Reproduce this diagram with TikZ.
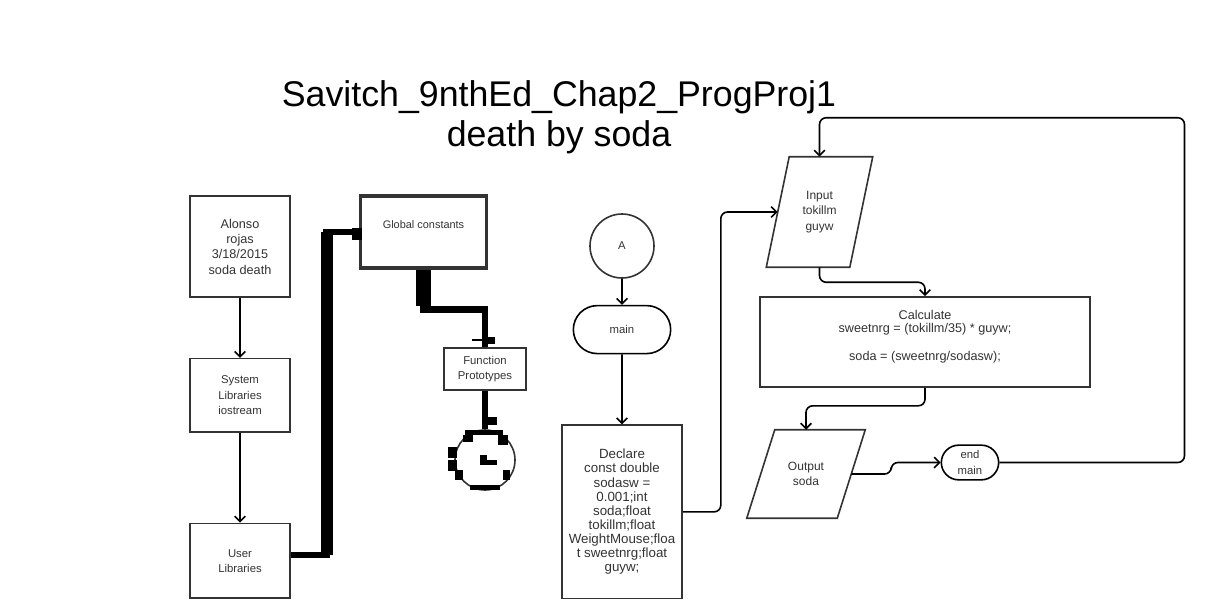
\documentclass[tikz,border=0pt]{standalone}
\usepackage{fontspec}
\setmainfont{Liberation Sans}
\usetikzlibrary{shapes.geometric, shapes.misc, arrows.meta, positioning, calc}
\tikzstyle{process} = [rectangle, draw=black!80, line width=1.2pt, text=black!80, align=center, inner sep=2pt, font=\fontsize{8.5}{11.5}\selectfont]
\tikzstyle{io} = [rectangle, text=black!80, align=center, inner sep=2pt, font=\fontsize{9}{11.5}\selectfont]
\tikzstyle{ioline} = [draw=black!80, line width=1.2pt]
\tikzstyle{term} = [rounded rectangle, draw=black, line width=1.2pt, text=black!80, align=center, inner sep=1pt, font=\fontsize{8.5}{11.5}\selectfont]
\tikzstyle{connector} = [circle, draw=black!80, line width=1.2pt, text=black!80, inner sep=0pt, font=\fontsize{8.5}{11.5}\selectfont]
\tikzstyle{arrow} = [line width=1.2pt, -{Straight Barb[length=4pt,width=8pt]}, rounded corners=5pt]
\tikzstyle{fat} = [line width=5pt, black]

\begin{document}
\begin{tikzpicture}[x=0.75pt, y=-0.75pt]
\useasboundingbox (0,0) rectangle (1210,615);

\node (title) at (559,117) [align=center, font=\fontsize{26.8}{30}\selectfont] {Savitch\_9nthEd\_Chap2\_ProgProj1\\death by soda};

% left column
\node (alonso) at (240,246.5) [process, minimum width=75pt, minimum height=75.75pt, font=\fontsize{9.5}{11.5}\selectfont] {Alonso\\rojas\\3/18/2015\\soda death};
\node (syslib) [process, below=45pt of alonso, minimum width=75pt, minimum height=55pt] {System\\Libraries\\iostream};
\node (userlib) [process, below=67.5pt of syslib, minimum width=75pt, minimum height=56pt] {User\\Libraries};

\node (globals) at (423.5,232) [process, line width=2.4pt, minimum width=94pt, minimum height=54pt, inner sep=0pt, text height=24pt, text depth=30pt, font=\fontsize{8.2}{11}\selectfont] {Global constants};
\node (protos) at (485,369) [process, minimum width=61.5pt, minimum height=31.5pt] {Function\\Prototypes};
\node (stop) at (485,460) [connector, minimum size=45pt] {};

% main column
\node (A) at (622,246) [connector, minimum size=48pt] {A};
\node (main) [term, below=19.5pt of A, minimum width=75pt, minimum height=36pt] {main};
\node (declare) [process, below=52.5pt of main, minimum width=90pt, minimum height=130pt, font=\fontsize{10}{10.6}\selectfont] {Declare\\const double\\sodasw =\\0.001;int\\soda;float\\tokillm;float\\WeightMouse;floa\\t sweetnrg;float\\guyw;};

% right part
\node (input) at (819.5,212) [io, minimum width=62.25pt, minimum height=82.5pt] {Input\\tokillm\\guyw};
\draw [ioline] ($(input.north west)+(8.6pt,0)$) -- ($(input.north east)+(8.6pt,0)$) -- ($(input.south east)+(-8.6pt,0)$) -- ($(input.south west)+(-8.6pt,0)$) -- cycle;
\node (calc) at (925,342) [process, minimum width=247.5pt, minimum height=67.5pt, font=\fontsize{9.5}{10.2}\selectfont] {Calculate\\sweetnrg = (tokillm/35) * guyw;\\[10.2pt]soda = (sweetnrg/sodasw);\\\mbox{}};
\node (output) at (806,474) [io, minimum width=67.5pt, minimum height=66pt] {Output\\soda};
\draw [ioline] ($(output.north west)+(10.5pt,0)$) -- ($(output.north east)+(10.5pt,0)$) -- ($(output.south east)+(-10.5pt,0)$) -- ($(output.south west)+(-10.5pt,0)$) -- cycle;
\node (endmain) at (970,462.5) [term, minimum width=45pt, minimum height=26pt] {end\\main};

% Arrows
\draw [arrow] (alonso) -- (syslib);
\draw [arrow] (syslib) -- (userlib);
\draw [arrow] (A) -- (main);
\draw [arrow] (main) -- (declare);
\draw [arrow] (declare.east) -- ++(38,0) |- (input);
\draw [arrow] (input.south) -- ++(0,15) -| (calc.north);
\draw [arrow] (calc.south) -- ++(0,18) -| (output.north);
\draw [arrow] (output.east) -- ++(40,0) |- (endmain.west);
\draw [arrow] (endmain.east) -- ++(185,0) |- ($(input.north)+(0,-39)$) -- (input.north);

% heavy links
\draw [fat] ([yshift=4.5pt]userlib.east) -- ++(36,0) coordinate (ucorner) |- coordinate[pos=0.5] (gcorner) (globals.west);
\draw [line width=9pt] (ucorner) -- (gcorner);
\fill (352,228) rectangle (362,240);
\draw [fat] (globals.south) -- ++(0,40) -| (protos.north);
\draw [line width=11pt] (globals.south) -- ++(0,36);
\draw [line width=1.5pt] (472,340) -- (484,340);
\fill (483,337) rectangle (495,344);
\draw [fat] (protos.south) -- (stop);
\fill (488,417) rectangle (497,425);
% pixel bits round the circle
\fill (465,430) rectangle (503,435);
\fill (463,435) rectangle (473,442);
\fill (498,435) rectangle (508,445);
\fill (448,447) rectangle (457,458);
\fill (448,460) rectangle (457,471);
\fill (455,470) rectangle (463,480);
\fill (503,470) rectangle (510,480);
\fill (470,485) rectangle (500,490);
\fill (480,455) rectangle (487,460);
\fill (480,460) rectangle (497,465);
\end{tikzpicture}
\end{document}
